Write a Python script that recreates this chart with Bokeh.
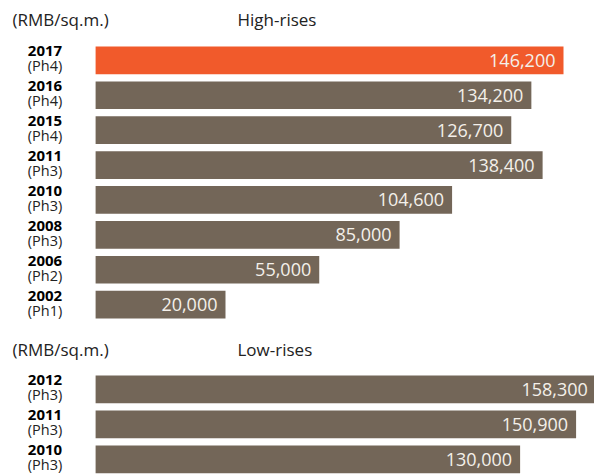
from bokeh.plotting import figure
from bokeh.models import ColumnDataSource, LabelSet, Label, Range1d
from bokeh.core.properties import value
from bokeh.embed import file_html
from bokeh.resources import INLINE

# ---- data ----
high_years = ["2017", "2016", "2015", "2011", "2010", "2008", "2006", "2002"]
high_phases = ["(Ph4)", "(Ph4)", "(Ph4)", "(Ph3)", "(Ph3)", "(Ph3)", "(Ph2)", "(Ph1)"]
high_values = [146200, 134200, 126700, 138400, 104600, 85000, 55000, 20000]

low_years = ["2012", "2011", "2010"]
low_phases = ["(Ph3)", "(Ph3)", "(Ph3)"]
low_values = [158300, 150900, 130000]

unit_label = "(RMB/sq.m.)"
high_title = "High-rises"
low_title = "Low-rises"

# ---- style / layout ----
W, H = 594, 474
FONT = "Open Sans"
ORANGE = "#F15A2B"
BROWN = "#736658"
VAL_COLOR = "#F4F0EA"
BASE = -28500          # bar baseline value
ROW = 34.9
BAR_H = 27.7

p = figure(width=W, height=H, output_backend="svg", toolbar_location=None,
           x_range=Range1d(-64008, 157774), y_range=Range1d(H, 0),
           min_border=0)
p.axis.visible = False
p.grid.visible = False
p.outline_line_color = None
p.background_fill_color = "white"
p.border_fill_color = "white"


def block(years, phases, values, first_center, row, highlight_first):
    ys = [first_center + i * row for i in range(len(values))]
    colors = [ORANGE if (highlight_first and i == 0) else BROWN for i in range(len(values))]
    labels = [f"{v:,}" for v in values]
    src = ColumnDataSource(dict(y=ys, v=values, c=colors, lab=labels,
                                yr=years, ph=phases,
                                yy=[y - 9 for y in ys], yp=[y + 5.5 for y in ys],
                                lx=[44.5] * len(ys)))
    p.hbar(y="y", left=BASE, right="v", height=BAR_H, color="c", line_color=None, source=src)
    p.add_layout(LabelSet(x="v", y="y", text="lab", source=src, x_offset=-8,
                          text_align="right", text_baseline="middle",
                          text_font=value(FONT), text_font_size=value("18px"),
                          text_color=VAL_COLOR))
    p.add_layout(LabelSet(x="lx", y="yy", x_units="screen", text="yr", source=src,
                          text_align="center", text_baseline="middle",
                          text_font=value(FONT), text_font_style="bold",
                          text_font_size=value("15px"), text_color="black"))
    p.add_layout(LabelSet(x="lx", y="yp", x_units="screen", text="ph", source=src,
                          text_align="center", text_baseline="middle",
                          text_font=value(FONT), text_font_size=value("14.5px"),
                          text_color="#222222"))


block(high_years, high_phases, high_values, 59.85, ROW, True)
block(low_years, low_phases, low_values, 388.85, 35.0, False)

for ty, t1, t2 in [(19, unit_label, high_title), (349, unit_label, low_title)]:
    p.add_layout(Label(x=12, y=ty, x_units="screen", text=t1, text_align="left",
                       text_baseline="middle", text_font=FONT, text_font_size="17px",
                       text_color="#222222"))
    p.add_layout(Label(x=237, y=ty, x_units="screen", text=t2, text_align="left",
                       text_baseline="middle", text_font=FONT, text_font_size="17px",
                       text_color="#222222"))

open("out.html", "w").write(file_html(p, INLINE))
